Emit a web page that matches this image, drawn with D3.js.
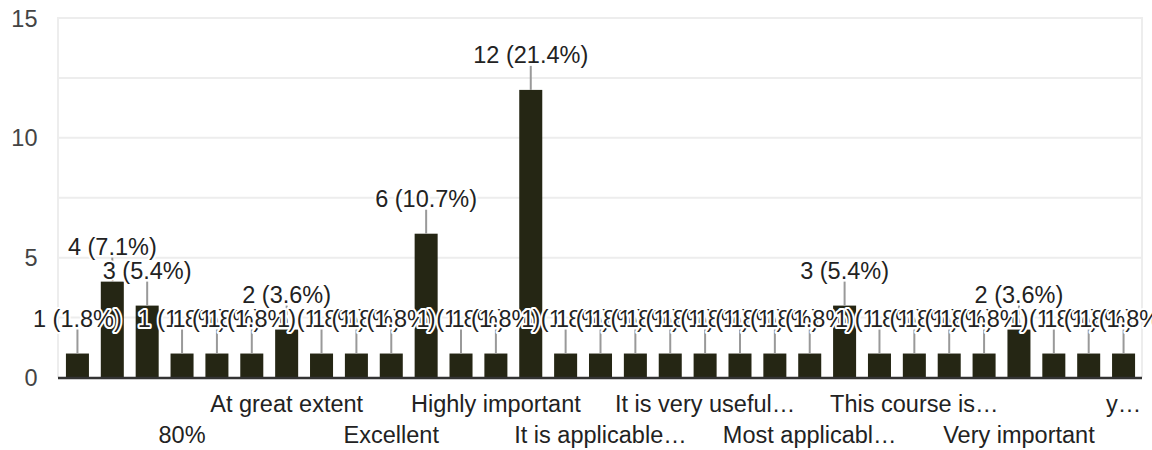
<!DOCTYPE html>
<html>
<head>
<meta charset="utf-8">
<script src="https://cdn.jsdelivr.net/npm/d3@7"></script>
<style>
  html, body { margin: 0; padding: 0; background: #fff; }
  svg { display: block; font-family: Arial, "Liberation Sans", sans-serif; }
</style>
</head>
<body>
<svg id="chart" width="1152" height="450"></svg>
<script>
// Response counts, in the chart's (alphabetical) category order
const values = [1, 4, 3, 1, 1, 1, 2, 1, 1, 1, 6, 1, 1, 12, 1, 1, 1, 1, 1, 1, 1, 1, 3, 1, 1, 1, 1, 2, 1, 1, 1];
// Category labels as displayed (only every third one is readable in the chart)
const categoryLabels = ["", "", "", "80%", "", "", "At great extent", "", "", "Excellent", "", "",
  "Highly important", "", "", "It is applicable…", "", "", "It is very useful…", "", "",
  "Most applicabl…", "", "", "This course is…", "", "", "Very important", "", "", "y…"];
const yTickValues = [0, 5, 10, 15];
const yGridValues = [0, 2.5, 5, 7.5, 10, 12.5, 15];

const svg = d3.select("#chart");
const total = d3.sum(values);

const x = d3.scaleBand()
  .domain(d3.range(values.length))
  .range([60, 1141])
  .paddingInner(0.34)
  .paddingOuter(0.17);

const y = d3.scaleLinear().domain([0, 15]).range([377.5, 18]);

const plotLeft = 58, plotRight = 1142;

// gridlines
svg.append("g").selectAll("line").data(yGridValues.filter(d => d > 0)).join("line")
  .attr("x1", plotLeft).attr("x2", plotRight)
  .attr("y1", d => y(d)).attr("y2", d => y(d))
  .attr("stroke", "#ededed").attr("stroke-width", 2);

// frame verticals
svg.append("g").selectAll("line").data([plotLeft, plotRight]).join("line")
  .attr("x1", d => d).attr("x2", d => d)
  .attr("y1", y(15) - 1).attr("y2", y(0))
  .attr("stroke", "#ededed").attr("stroke-width", 2);

// y tick labels
svg.append("g").selectAll("text").data(yTickValues).join("text")
  .attr("x", 37.5).attr("y", d => y(d) + 8.5)
  .attr("text-anchor", "end")
  .attr("font-size", 23.5)
  .attr("fill", "#444")
  .text(d => d);

// bars
svg.append("g").selectAll("rect").data(values).join("rect")
  .attr("x", (d, i) => x(i))
  .attr("width", x.bandwidth())
  .attr("y", d => y(d))
  .attr("height", d => y(0) - y(d))
  .attr("fill", "#252614");

// baseline
svg.append("line")
  .attr("x1", plotLeft).attr("x2", plotRight)
  .attr("y1", y(0) + 0.5).attr("y2", y(0) + 0.5)
  .attr("stroke", "#333").attr("stroke-width", 2.5);

// leader lines
svg.append("g").selectAll("line").data(values).join("line")
  .attr("x1", (d, i) => x(i) + x.bandwidth() / 2)
  .attr("x2", (d, i) => x(i) + x.bandwidth() / 2)
  .attr("y1", d => y(d))
  .attr("y2", d => y(d) - 24)
  .attr("stroke", "#999").attr("stroke-width", 2);

// value annotations (each with its own white halo, drawn in order)
const ann = svg.append("g");
values.forEach((v, i) => {
  ann.append("text")
    .attr("x", x(i) + x.bandwidth() / 2)
    .attr("y", y(v) - 27)
    .attr("text-anchor", "middle")
    .attr("font-size", 23.5)
    .attr("fill", "#222")
    .attr("stroke", "#fff")
    .attr("stroke-width", 4)
    .attr("stroke-linejoin", "round")
    .attr("paint-order", "stroke")
    .text(`${v} (${(v / total * 100).toFixed(1)}%)`);
});

// x labels, staggered on two rows
svg.append("g").selectAll("text").data(categoryLabels.map((t, i) => ({ t, i })).filter(d => d.t)).join("text")
  .attr("x", d => x(d.i) + x.bandwidth() / 2)
  .attr("y", d => (d.i % 6 === 0) ? 412 : 443)
  .attr("text-anchor", "middle")
  .attr("font-size", 23.5)
  .attr("fill", "#222")
  .text(d => d.t);
</script>
</body>
</html>
